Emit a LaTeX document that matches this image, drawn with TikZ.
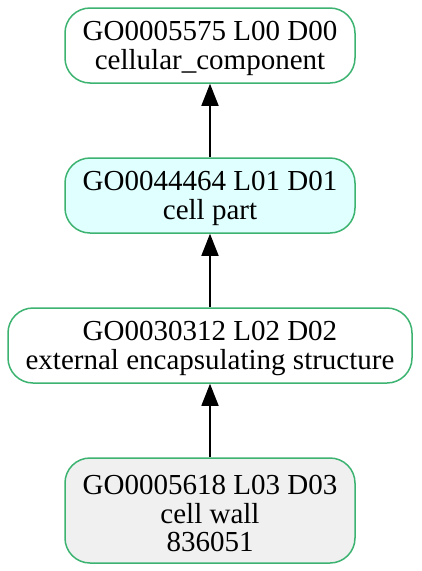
\documentclass[tikz,border=0pt]{standalone}
\usepackage{fontspec}
\setmainfont{Liberation Serif}
\usetikzlibrary{arrows.meta}
\definecolor{gogreen}{HTML}{3CB371}
\definecolor{gocyan}{HTML}{E0FFFF}
\definecolor{gogray}{HTML}{F0F0F0}
\begin{document}
\begin{tikzpicture}[x=1pt,y=-1pt,
  goterm/.style={draw=gogreen, line width=1.5pt, rounded corners=25pt, inner sep=0pt, minimum height=75pt},
  goterm text/.style={align=center, font=\fontsize{29}{28.5}\selectfont, inner sep=0pt, yshift=-3pt},
  isa/.style={-{Triangle[length=22pt,width=17pt]}, line width=1.5pt}]
\useasboundingbox[fill=white] (0,0) rectangle (421,571);
\node[goterm, minimum width=290pt,
  label={[goterm text]center:{GO0005575 L00 D00\\cellular\_component}}] (n1) at (210,45.5) {};
\node[goterm, minimum width=290pt, fill=gocyan,
  label={[goterm text]center:{GO0044464 L01 D01\\cell part}}] (n2) at (210,195.5) {};
\node[goterm, minimum width=404pt,
  label={[goterm text]center:{GO0030312 L02 D02\\external encapsulating structure}}] (n3) at (210,345.5) {};
\node[goterm, minimum width=290pt, minimum height=105pt, fill=gogray,
  label={[goterm text]center:{GO0005618 L03 D03\\cell wall\\836051}}] (n4) at (210,510.5) {};
\draw[isa] (n2) -- (n1);
\draw[isa] (n3) -- (n2);
\draw[isa] (n4) -- (n3);
\end{tikzpicture}
\end{document}
